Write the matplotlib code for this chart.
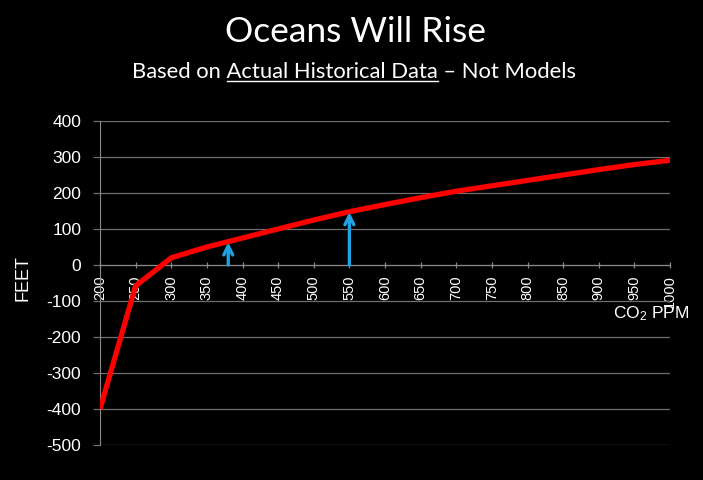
import matplotlib.pyplot as plt
import matplotlib as mpl

mpl.rcParams.update({'font.family': 'Liberation Sans',
                     'mathtext.fontset': 'custom',
                     'mathtext.rm': 'Liberation Sans',
                     'mathtext.it': 'Liberation Sans:italic'})

# data
co2_ppm = [200, 250, 300, 350, 400, 450, 500, 550, 600, 650, 700, 750, 800, 850, 900, 950, 1000]
sea_feet = [-400, -58, 20, 50, 75, 100, 125, 148, 168, 187, 205, 220, 235, 250, 265, 279, 291]
arrow_x = [380, 550]
arrow_top = [63, 147]
yticks = [-500, -400, -300, -200, -100, 0, 100, 200, 300, 400]
xticks = list(range(200, 1001, 50))

fig = plt.figure(figsize=(7.03, 4.8), dpi=100, facecolor='black')
ax = fig.add_axes([100/703, 35/480, 570/703, 324/480])
ax.set_facecolor('black')

ax.plot(co2_ppm, sea_feet, color='#ff0000', lw=3.8, solid_capstyle='butt', zorder=3)

for xa, ya in zip(arrow_x, arrow_top):
    ax.annotate('', xy=(xa, ya), xytext=(xa, 0),
                arrowprops=dict(arrowstyle='->', color='#1fa3e3', lw=2.4,
                                mutation_scale=16, shrinkA=0, shrinkB=0), zorder=4)

# move x axis to zero first (this resets the tick objects)
for s in ['top', 'right']:
    ax.spines[s].set_visible(False)
ax.spines['left'].set_color('#8a8a8a')
ax.spines['bottom'].set_color('#8a8a8a')
ax.spines['bottom'].set_position(('data', 0))

ax.set_xlim(200, 1000)
ax.set_ylim(-500, 400)
ax.set_yticks(yticks)
ax.set_xticks(xticks)
ax.set_xticklabels([str(v) for v in xticks], rotation=90, fontsize=10.5, color='white')
ax.set_yticklabels([str(v) for v in yticks], fontsize=12.5, color='white')

ax.grid(True, axis='y', color='#6e6e6e', lw=0.9)
ax.set_axisbelow(True)
ax.tick_params(axis='y', length=5, color='#6e6e6e', pad=8.5, width=0.9, labelcolor='white')
ax.tick_params(axis='x', direction='inout', length=5, color='#8a8a8a', pad=5, width=0.9,
               labelcolor='white', labelrotation=90)

fig.text(23/703, 1 - 278/480, 'FEET', rotation=90, color='white', fontsize=13,
         ha='center', va='center')
fig.text(651/703, 1 - 314/480, 'CO$_2$ PPM', color='white', fontsize=12.5,
         ha='center', va='center')

# titles
fig.text(0.505, 1 - 32/480, 'Oceans Will Rise', color='white', fontsize=25.5,
         family='Lato', ha='center', va='center')

sub_y = 1 - 72/480
prefix = 'Based on '
under = 'Actual Historical Data'
full = prefix + under + ' \u2013 Not Models'
sub = fig.text(0.504, sub_y, full, color='white', fontsize=15.8, family='Lato',
               ha='center', va='center')
r = fig.canvas.get_renderer()
bb = sub.get_window_extent(r)
t1 = fig.text(0, 0, prefix + under, fontsize=15.8, family='Lato')
t2 = fig.text(0, 0, under, fontsize=15.8, family='Lato')
w1 = t1.get_window_extent(r).width
w2 = t2.get_window_extent(r).width
t1.remove()
t2.remove()
x_end = bb.x0 + w1
x_start = x_end - w2
uy = 1 - 81/480
fig.add_artist(mpl.lines.Line2D([x_start / fig.bbox.width, x_end / fig.bbox.width], [uy, uy],
                                color='white', lw=1.0, transform=fig.transFigure))

plt.savefig('out.png', dpi=100, facecolor='black')
